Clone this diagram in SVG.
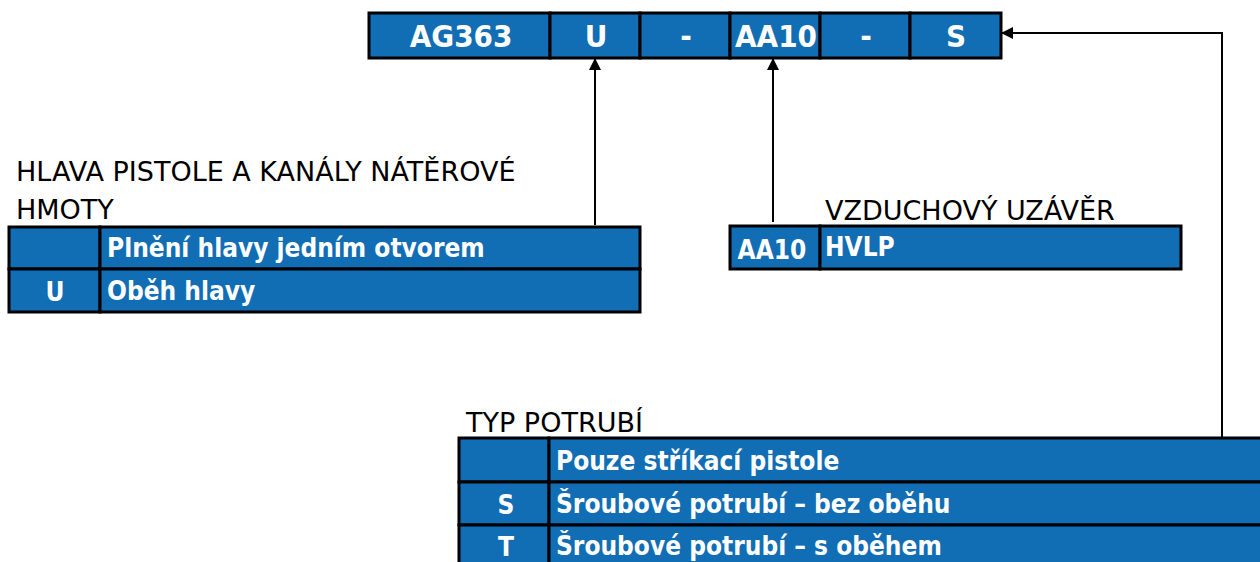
<svg xmlns="http://www.w3.org/2000/svg" width="1260" height="562" viewBox="0 0 1260 562">
<style>
.cell{fill:#116db4;stroke:#000;stroke-width:3}
.b{font-family:"DejaVu Sans Condensed","DejaVu Sans",sans-serif;font-weight:bold;fill:#fff;font-size:26px}
.top{font-size:31px}
.bc{text-anchor:middle}
.t{font-family:"DejaVu Sans","Liberation Sans",sans-serif;fill:#000;font-size:27px}
.ln{fill:none;stroke:#000;stroke-width:2}
</style>
<defs>
<marker id="ah" markerWidth="12" markerHeight="12" refX="11" refY="6" orient="auto" markerUnits="userSpaceOnUse" viewBox="0 0 12 12">
<path d="M0,0 L12,6 L0,12 z" fill="#000"/>
</marker>
</defs>
<rect width="1260" height="562" fill="#fff"/>
<g id="code">
<rect class="cell" x="369" y="13" width="181" height="45"/>
<rect class="cell" x="550" y="13" width="90" height="45"/>
<rect class="cell" x="640" y="13" width="90" height="45"/>
<rect class="cell" x="730" y="13" width="90" height="45"/>
<rect class="cell" x="820" y="13" width="90" height="45"/>
<rect class="cell" x="910" y="13" width="91" height="45"/>
<text class="b top bc" x="461" y="47">AG363</text>
<text class="b top bc" x="596" y="47">U</text>
<text class="b top bc" x="686" y="47">-</text>
<text class="b top bc" x="776" y="47">AA10</text>
<text class="b top bc" x="866" y="47">-</text>
<text class="b top bc" x="956" y="47">S</text>
</g>
<g id="head">
<text class="t" x="16" y="181">HLAVA PISTOLE A KANÁLY NÁTĚROVÉ</text>
<text class="t" x="16" y="219">HMOTY</text>
<rect class="cell" x="9" y="227" width="91" height="42"/>
<rect class="cell" x="100" y="227" width="540" height="42"/>
<rect class="cell" x="9" y="269" width="91" height="43"/>
<rect class="cell" x="100" y="269" width="540" height="43"/>
<text class="b" x="107" y="257">Plnění hlavy jedním otvorem</text>
<text class="b bc" x="55" y="301">U</text>
<text class="b" x="107" y="300">Oběh hlavy</text>
</g>
<g id="air">
<text class="t" x="825" y="220">VZDUCHOVÝ UZÁVĚR</text>
<rect class="cell" x="730" y="226" width="90" height="43"/>
<rect class="cell" x="820" y="226" width="361" height="43"/>
<text class="b bc" x="772" y="259">AA10</text>
<text class="b" x="825" y="256">HVLP</text>
</g>
<g id="pipe">
<text class="t" x="466" y="432">TYP POTRUBÍ</text>
<rect class="cell" x="459" y="438" width="90" height="44"/>
<rect class="cell" x="549" y="438" width="716" height="44"/>
<rect class="cell" x="459" y="482" width="90" height="43"/>
<rect class="cell" x="549" y="482" width="716" height="43"/>
<rect class="cell" x="459" y="525" width="90" height="43"/>
<rect class="cell" x="549" y="525" width="716" height="43"/>
<text class="b" x="556" y="470">Pouze stříkací pistole</text>
<text class="b bc" x="506" y="514">S</text>
<text class="b" x="556" y="513">Šroubové potrubí – bez oběhu</text>
<text class="b bc" x="506" y="556">T</text>
<text class="b" x="556" y="555">Šroubové potrubí – s oběhem</text>
</g>
<g id="connectors">
<line class="ln" x1="595" y1="225" x2="595" y2="59" marker-end="url(#ah)"/>
<line class="ln" x1="773" y1="222" x2="773" y2="59" marker-end="url(#ah)"/>
<polyline class="ln" points="1222,437 1222,33 1002,33" marker-end="url(#ah)"/>
</g>
</svg>
